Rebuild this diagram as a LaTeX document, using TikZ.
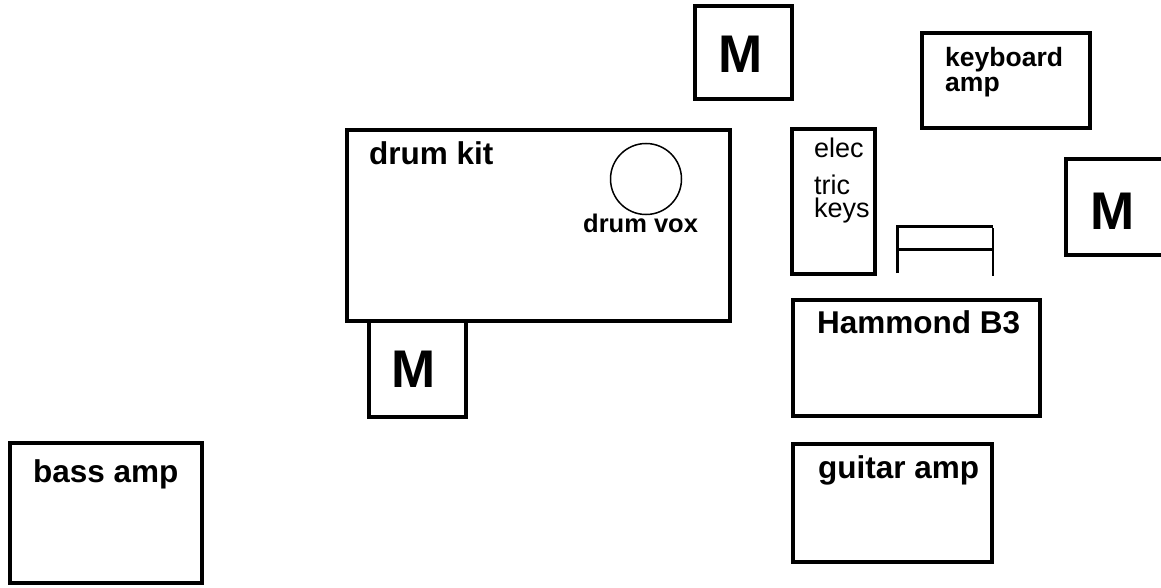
\documentclass[tikz,border=0pt]{standalone}
\usepackage{fontspec}
\setmainfont{Liberation Sans}
\usetikzlibrary{calc}
\tikzset{
  gear/.style={line width=3.5pt},
  biglabel/.style={anchor=base west, inner sep=0pt, font=\fontsize{31.5}{34}\bfseries},
  smalllabel/.style={anchor=base west, inner sep=0pt, font=\fontsize{26.5}{30}\bfseries},
  keyslabel/.style={anchor=base west, inner sep=0pt, font=\fontsize{27}{30}\selectfont},
  monlabel/.style={inner sep=0pt, font=\fontsize{53}{56}\bfseries}
}
\begin{document}
\begin{tikzpicture}[x=1pt, y=-1pt]
  %%%%% START %%%%%
  \useasboundingbox (0,0) rectangle (1161,588);
  \clip (0,0) rectangle (1161,588);

  % drum kit
  \draw[gear] (347,130) rectangle (730,321);
  \node[biglabel] (drumkit) at (369,165) {drum kit};
  \draw[line width=1.5pt] (646,179) circle (35.5);
  \node[anchor=base west, inner sep=0pt, font=\fontsize{25.5}{28}\bfseries] (drumvox) at (583,232) {drum vox};

  % monitors
  \draw[gear] (695,6) rectangle (792,99);
  \node[monlabel] (montop) at (741,54) {M};
  \draw[gear] (369,321) rectangle (466,417);
  \node[monlabel] (mondrum) at (414,369) {M};
  \draw[gear] (1066,159) rectangle (1170,255);
  \node[monlabel] (monkeys) at (1113,211) {M};

  % keyboards
  \draw[gear] (922,33) rectangle (1090,128);
  \node[smalllabel] (kbamp) at (945,67) {keyboard};
  \node[smalllabel] (kbamp2) at (945,92) {amp};

  \draw[gear] (792,129) rectangle (875,274);
  \node[keyslabel] (elec) at (814,158) {elec};
  \node[keyslabel] (tric) at (814,195) {tric};
  \node[keyslabel] (keys) at (814,217) {keys};

  % bench
  \draw[line width=3pt] (897,273) -- (897,226) -- (993,226);
  \draw[line width=3pt] (897,249) -- (993,249);
  \draw[line width=2pt] (993,228) -- (993,276);

  % organ and amps
  \draw[gear] (793,300) rectangle (1040,416);
  \node[biglabel] (hammond) at (817,333) {Hammond B3};
  \draw[gear] (793,444) rectangle (992,562);
  \node[biglabel] (guitar) at (818,478) {guitar amp};
  \draw[gear] (10,443) rectangle (202,583);
  \node[biglabel] (bass) at (33,482) {bass amp};
  %%%%% END %%%%%
\end{tikzpicture}
\end{document}
